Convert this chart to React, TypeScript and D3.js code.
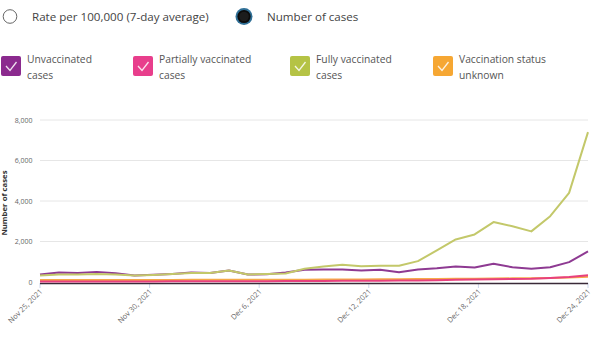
import React from "react";
import * as d3 from "d3";

const START = new Date(2021, 10, 25);
const END = new Date(2021, 11, 24);
const dates: Date[] = d3.timeDays(START, d3.timeDay.offset(END, 1));

const unvaccinated = [370, 470, 450, 500, 430, 320, 360, 400, 470, 450, 570, 370, 380, 470, 600, 620, 620, 570, 600, 485, 620, 680, 770, 720, 900, 730, 650, 730, 980, 1510];
const partially = [30, 30, 30, 30, 30, 30, 30, 35, 35, 35, 40, 40, 40, 45, 50, 55, 60, 60, 65, 70, 80, 90, 110, 120, 140, 150, 160, 200, 250, 330];
const fully = [320, 370, 370, 400, 370, 320, 350, 400, 450, 450, 570, 370, 400, 420, 650, 770, 850, 780, 800, 800, 1030, 1560, 2100, 2350, 2960, 2750, 2500, 3250, 4400, 7400];
const unknown = [100, 100, 95, 100, 100, 95, 100, 100, 105, 105, 110, 105, 105, 110, 115, 120, 125, 125, 130, 135, 145, 150, 160, 165, 175, 180, 190, 200, 220, 260];

const yTicks = [0, 2000, 4000, 6000, 8000];
const legendLabels = [
  ["Unvaccinated", "cases"],
  ["Partially vaccinated", "cases"],
  ["Fully vaccinated", "cases"],
  ["Vaccination status", "unknown"],
];
const legendColors = ["#8b2a8e", "#e83e8c", "#b5c345", "#f6a733"];
const lineColors = ["#8e3a92", "#e8407e", "#c3c86a", "#f6a94a"];
const seriesList = [unvaccinated, partially, fully, unknown];
const drawOrder = [0, 2, 3, 1];

export default function App() {
  const W = 600, H = 343;
  const x = d3.scaleTime().domain([START, END]).range([40, 588]);
  const y = d3.scaleLinear().domain([0, 8000]).range([282, 120]);
  const fmtY = d3.format(",");
  const fmtX = d3.timeFormat("%b %-d, %Y");
  const xTicks = d3.range(6).map(
    (i) => new Date(START.getTime() + (i * (END.getTime() - START.getTime())) / 5)
  );
  const line = d3
    .line<number>()
    .x((_, i) => x(dates[i]))
    .y((v) => y(v));
  const font = "'Open Sans', sans-serif";
  const legendX = [1, 133, 290, 433];

  return (
    <svg
      width={W}
      height={H}
      style={{ position: "absolute", left: 0, top: 0, background: "#fff" }}
      fontFamily={font}
    >
      {/* radio buttons */}
      <circle cx={10} cy={16.5} r={6.8} fill="#fff" stroke="#666" strokeWidth={1} />
      <text x={32} y={20.5} fontSize={11.6} fill="#444">
        Rate per 100,000 (7-day average)
      </text>
      <circle cx={244} cy={16.5} r={8.5} fill="#2f6f96" />
      <circle cx={244} cy={16.5} r={6.6} fill="#0b0b0b" />
      <circle cx={244} cy={16.5} r={4.8} fill="#1c1c1c" />
      <text x={267} y={20.5} fontSize={11.6} fill="#444">
        Number of cases
      </text>

      {/* legend */}
      {legendLabels.map((lbl, i) => (
        <g key={i} transform={`translate(${legendX[i]},56)`}>
          <rect x={0} y={0} width={20} height={20} rx={2} fill={legendColors[i]} />
          <polyline
            points="5,10 9,14.5 15.5,6"
            fill="none"
            stroke="#fff"
            strokeWidth={1.3}
            opacity={0.85}
          />
          <text x={26} y={6.5} fontSize={10.3} fill="#555">
            {lbl[0]}
          </text>
          <text x={26} y={23} fontSize={10.3} fill="#555">
            {lbl[1]}
          </text>
        </g>
      ))}

      {/* gridlines and y labels */}
      {yTicks.map((t) => (
        <g key={t}>
          {t > 0 && (
            <line x1={40} x2={588} y1={y(t)} y2={y(t)} stroke="#e6e6e6" strokeWidth={1} />
          )}
          <text x={32.5} y={y(t) + 2.5} fontSize={7} fill="#666" textAnchor="end">
            {fmtY(t)}
          </text>
        </g>
      ))}
      <text
        transform={`translate(7,203) rotate(-90)`}
        fontSize={7.8}
        fontWeight="bold"
        fill="#333"
        textAnchor="middle"
      >
        Number of cases
      </text>

      {/* x ticks */}
      {xTicks.map((t, i) => (
        <g key={i}>
          <line x1={x(t)} x2={x(t)} y1={283} y2={288} stroke="#ccd6eb" strokeWidth={1} />
          <text
            transform={`translate(${x(t) + 3},${292}) rotate(-45)`}
            fontSize={7.4}
            fill="#666"
            textAnchor="end"
          >
            {fmtX(t)}
          </text>
        </g>
      ))}

      {/* axis line */}
      <line x1={40} x2={588} y1={283.5} y2={283.5} stroke="#3a2a38" strokeWidth={1.5} />

      {/* series */}
      {drawOrder.map((si) => (
        <path
          key={si}
          d={line(seriesList[si]) || ""}
          fill="none"
          stroke={lineColors[si]}
          strokeWidth={2}
          strokeLinejoin="round"
        />
      ))}
    </svg>
  );
}
